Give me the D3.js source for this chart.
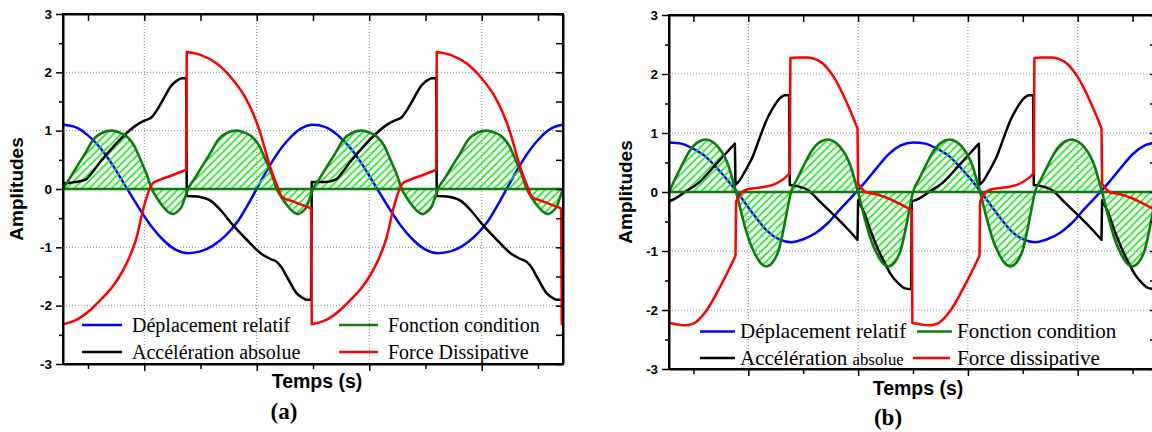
<!DOCTYPE html>
<html><head><meta charset="utf-8">
<script src="https://cdn.jsdelivr.net/npm/d3@7"></script>
<style>body{margin:0;background:#fff}svg{display:block}</style>
</head><body>
<svg id="c" width="1152" height="432"></svg>
<script>
// ---------------- DATA ----------------
const yTickValues = [-3, -2, -1, 0, 1, 2, 3];
const yMinorValues = [-2.5, -1.5, -0.5, 0.5, 1.5, 2.5];
const yGridValues = [-2, -1, 1, 2];
const xMajorTicks = [0.65, 1.55, 2.45, 3.35];
const xMinorTicks = [0.2, 1.1, 2.0, 2.9, 3.8];

const timeDisp = [0,0.1,0.2,0.3,0.4,0.5,0.6,0.7,0.8,0.9,1,1.1,1.2,1.3,1.4,1.5,1.6,1.7,1.8,1.9,2,
  2.1,2.2,2.3,2.4,2.5,2.6,2.7,2.8,2.9,3,3.1,3.2,3.3,3.4,3.5,3.6,3.7,3.8,3.9,4];

// (a) Déplacement relatif
const dispA = [1.10,1.06,0.92,0.70,0.40,0.05,-0.30,-0.62,-0.87,-1.04,-1.10,-1.07,-0.97,-0.80,-0.55,-0.19,0.20,0.56,0.84,1.03,1.10,
  1.06,0.92,0.70,0.40,0.05,-0.30,-0.62,-0.87,-1.04,-1.10,-1.07,-0.97,-0.80,-0.55,-0.19,0.20,0.56,0.84,1.03,1.10];
// (b) Déplacement relatif
const dispB = [0.84,0.82,0.73,0.60,0.39,0.15,-0.12,-0.40,-0.65,-0.80,-0.85,-0.80,-0.70,-0.53,-0.30,-0.08,0.15,0.40,0.64,0.79,0.84,
  0.82,0.73,0.60,0.39,0.15,-0.12,-0.40,-0.65,-0.80,-0.85,-0.80,-0.70,-0.53,-0.30,-0.08,0.15,0.40,0.64,0.79,0.84];

// (a) Fonction condition
const condA = [
 [0,0],[0.05,0.17],[0.11,0.38],[0.18,0.62],[0.24,0.84],[0.31,0.96],[0.39,1.00],[0.45,0.97],[0.51,0.90],[0.57,0.74],[0.62,0.50],[0.67,0.25],[0.71,0],[0.75,-0.15],[0.80,-0.30],[0.84,-0.39],[0.88,-0.43],[0.92,-0.38],[0.95,-0.30],[0.98,-0.12],
 [1,0],[1.05,0.17],[1.11,0.38],[1.18,0.62],[1.24,0.84],[1.31,0.96],[1.39,1.00],[1.45,0.97],[1.51,0.90],[1.57,0.74],[1.62,0.50],[1.67,0.25],[1.71,0],[1.75,-0.15],[1.80,-0.30],[1.84,-0.39],[1.88,-0.43],[1.92,-0.38],[1.95,-0.30],[1.98,-0.12],
 [2,0],[2.05,0.17],[2.11,0.38],[2.18,0.62],[2.24,0.84],[2.31,0.96],[2.39,1.00],[2.45,0.97],[2.51,0.90],[2.57,0.74],[2.62,0.50],[2.67,0.25],[2.71,0],[2.75,-0.15],[2.80,-0.30],[2.84,-0.39],[2.88,-0.43],[2.92,-0.38],[2.95,-0.30],[2.98,-0.12],
 [3,0],[3.05,0.17],[3.11,0.38],[3.18,0.62],[3.24,0.84],[3.31,0.96],[3.39,1.00],[3.45,0.97],[3.51,0.90],[3.57,0.74],[3.62,0.50],[3.67,0.25],[3.71,0],[3.75,-0.15],[3.80,-0.30],[3.84,-0.39],[3.88,-0.43],[3.92,-0.38],[3.95,-0.30],[3.98,-0.12],
 [4,0]];

// (b) Fonction condition
const condB = [
 [0,0],[0.05,0.22],[0.10,0.43],[0.15,0.63],[0.21,0.80],[0.25,0.86],[0.30,0.89],[0.35,0.86],[0.40,0.77],[0.45,0.62],[0.49,0.43],[0.52,0.22],[0.55,0],[0.58,-0.25],[0.62,-0.57],[0.66,-0.84],[0.70,-1.03],[0.75,-1.20],[0.80,-1.26],[0.85,-1.19],[0.90,-0.98],[0.94,-0.62],[0.97,-0.30],
 [1,0],[1.05,0.22],[1.10,0.43],[1.15,0.63],[1.21,0.80],[1.25,0.86],[1.30,0.89],[1.35,0.86],[1.40,0.77],[1.45,0.62],[1.49,0.43],[1.52,0.22],[1.55,0],[1.58,-0.25],[1.62,-0.57],[1.66,-0.84],[1.70,-1.03],[1.75,-1.20],[1.80,-1.26],[1.85,-1.19],[1.90,-0.98],[1.94,-0.62],[1.97,-0.30],
 [2,0],[2.05,0.22],[2.10,0.43],[2.15,0.63],[2.21,0.80],[2.25,0.86],[2.30,0.89],[2.35,0.86],[2.40,0.77],[2.45,0.62],[2.49,0.43],[2.52,0.22],[2.55,0],[2.58,-0.25],[2.62,-0.57],[2.66,-0.84],[2.70,-1.03],[2.75,-1.20],[2.80,-1.26],[2.85,-1.19],[2.90,-0.98],[2.94,-0.62],[2.97,-0.30],
 [3,0],[3.05,0.22],[3.10,0.43],[3.15,0.63],[3.21,0.80],[3.25,0.86],[3.30,0.89],[3.35,0.86],[3.40,0.77],[3.45,0.62],[3.49,0.43],[3.52,0.22],[3.55,0],[3.58,-0.25],[3.62,-0.57],[3.66,-0.84],[3.70,-1.03],[3.75,-1.20],[3.80,-1.26],[3.85,-1.19],[3.90,-0.98],[3.94,-0.62],[3.97,-0.30],
 [4,0]];

// (a) Accélération absolue (continuous pieces, jumps between them)
const accA = [
 [[0,0.10],[0.10,0.12],[0.18,0.16],[0.24,0.30],[0.30,0.47],[0.38,0.67],[0.48,0.90],[0.59,1.10],[0.66,1.18],[0.71,1.23],[0.76,1.38],[0.80,1.53],[0.87,1.78],[0.92,1.87],[0.95,1.90],[0.985,1.90]],
 [[0.99,-0.12],[1.07,-0.13],[1.12,-0.15],[1.18,-0.20],[1.26,-0.36],[1.36,-0.62],[1.47,-0.87],[1.58,-1.10],[1.66,-1.20],[1.71,-1.25],[1.75,-1.35],[1.79,-1.50],[1.87,-1.79],[1.92,-1.87],[1.95,-1.90],[1.985,-1.90]],
 [[1.99,0.12],[2.10,0.12],[2.18,0.16],[2.24,0.30],[2.30,0.47],[2.38,0.67],[2.48,0.90],[2.59,1.10],[2.66,1.18],[2.71,1.23],[2.76,1.38],[2.80,1.53],[2.87,1.78],[2.92,1.87],[2.95,1.90],[2.985,1.90]],
 [[2.99,-0.12],[3.07,-0.13],[3.12,-0.15],[3.18,-0.20],[3.26,-0.36],[3.36,-0.62],[3.47,-0.87],[3.58,-1.10],[3.66,-1.20],[3.71,-1.25],[3.75,-1.35],[3.79,-1.50],[3.87,-1.79],[3.92,-1.87],[3.95,-1.90],[4.0,-1.90]]
];

// (a) Force Dissipative
const forceA = [
 [[0,-2.32],[0.11,-2.24],[0.22,-2.07],[0.30,-1.90],[0.38,-1.72],[0.46,-1.47],[0.51,-1.27],[0.59,-0.82],[0.64,-0.36],[0.68,-0.07],[0.72,0.10],[0.78,0.16],[0.88,0.24],[0.985,0.33]],
 [[0.99,2.35],[1.10,2.30],[1.23,2.15],[1.36,1.87],[1.45,1.60],[1.52,1.30],[1.58,0.95],[1.64,0.50],[1.69,0.18],[1.72,0.02],[1.75,-0.13],[1.85,-0.22],[1.985,-0.33]],
 [[1.99,-2.32],[2.11,-2.24],[2.22,-2.07],[2.30,-1.90],[2.38,-1.72],[2.46,-1.47],[2.51,-1.27],[2.59,-0.82],[2.64,-0.36],[2.68,-0.07],[2.72,0.10],[2.78,0.16],[2.88,0.24],[2.985,0.33]],
 [[2.99,2.35],[3.10,2.30],[3.23,2.15],[3.36,1.87],[3.45,1.60],[3.52,1.30],[3.58,0.95],[3.64,0.50],[3.69,0.18],[3.72,0.02],[3.75,-0.13],[3.85,-0.22],[3.985,-0.33]],
 [[3.99,-2.32],[4.0,-2.32]]
];

// (b) Accélération absolue
const accB = [
 [[0,-0.16],[0.06,-0.10],[0.13,0.0],[0.24,0.15],[0.38,0.46],[0.46,0.64],[0.54,0.82]],
 [[0.545,0.12],[0.58,0.20],[0.62,0.34],[0.69,0.62],[0.74,0.90],[0.80,1.22],[0.86,1.45],[0.91,1.59],[0.95,1.64],[0.985,1.64]],
 [[0.99,0.12],[1.05,0.10],[1.14,0.03],[1.25,-0.19],[1.39,-0.47],[1.47,-0.64],[1.545,-0.81]],
 [[1.55,-0.14],[1.60,-0.35],[1.66,-0.70],[1.72,-1.00],[1.77,-1.21],[1.82,-1.40],[1.88,-1.55],[1.93,-1.63],[1.985,-1.65]],
 [[1.99,-0.16],[2.06,-0.10],[2.13,0.0],[2.24,0.15],[2.38,0.46],[2.46,0.64],[2.54,0.82]],
 [[2.545,0.12],[2.58,0.20],[2.62,0.34],[2.69,0.62],[2.74,0.90],[2.80,1.22],[2.86,1.45],[2.91,1.59],[2.95,1.64],[2.985,1.64]],
 [[2.99,0.12],[3.05,0.10],[3.14,0.03],[3.25,-0.19],[3.39,-0.47],[3.47,-0.64],[3.545,-0.81]],
 [[3.55,-0.14],[3.60,-0.35],[3.66,-0.70],[3.72,-1.00],[3.77,-1.21],[3.82,-1.40],[3.88,-1.55],[3.93,-1.63],[4.0,-1.65]]
];

// (b) Force dissipative
const forceB = [
 [[0,-0.33],[0,-2.22]],
 [[0.005,-2.22],[0.06,-2.24],[0.12,-2.26],[0.20,-2.23],[0.31,-2.00],[0.42,-1.60],[0.48,-1.36],[0.545,-1.08]],
 [[0.55,-0.16],[0.60,0.0],[0.65,0.05],[0.72,0.07],[0.79,0.09],[0.85,0.12],[0.90,0.17],[0.95,0.24],[0.99,0.32]],
 [[0.995,2.27],[1.05,2.28],[1.13,2.28],[1.24,2.21],[1.35,1.95],[1.46,1.50],[1.545,1.08]],
 [[1.55,0.14],[1.61,0.0],[1.72,-0.05],[1.80,-0.11],[1.88,-0.19],[1.99,-0.31]],
 [[1.995,-2.22],[2.06,-2.24],[2.12,-2.26],[2.20,-2.23],[2.31,-2.00],[2.42,-1.60],[2.48,-1.36],[2.545,-1.08]],
 [[2.55,-0.16],[2.60,0.0],[2.65,0.05],[2.72,0.07],[2.79,0.09],[2.85,0.12],[2.90,0.17],[2.95,0.24],[2.99,0.32]],
 [[2.995,2.27],[3.05,2.28],[3.13,2.28],[3.24,2.21],[3.35,1.95],[3.46,1.50],[3.545,1.08]],
 [[3.55,0.14],[3.61,0.0],[3.72,-0.05],[3.80,-0.11],[3.88,-0.19],[4.0,-0.32]]
];

const legendA = ["Déplacement relatif", "Accélération absolue", "Fonction condition", "Force Dissipative"];
const legendB = ["Déplacement relatif", "Accélération ", "absolue", "Fonction condition", "Force dissipative"];
const captions = ["(a)", "(b)"];
const yTitle = "Amplitudes";
const xTitle = "Temps (s)";

// ---------------- DRAWING ----------------
const svg = d3.select("#c");
const C = {blue:"#0000ff", black:"#000000", red:"#ff0000", green:"#0a7d0a", hatch:"#1ee81e"};
const SANS = "'Liberation Sans', Arial, sans-serif";
const SERIF = "'Liberation Serif', 'Times New Roman', serif";

const defs = svg.append("defs");
const pat = defs.append("pattern").attr("id","hatch").attr("patternUnits","userSpaceOnUse")
  .attr("width",7.5).attr("height",7.5);
pat.append("path").attr("d","M-2,2 L2,-2 M0,7.5 L7.5,0 M5.5,9.5 L9.5,5.5")
  .attr("stroke",C.hatch).attr("stroke-width",1.8);

function piecePath(pieces, x, y) {
  let d = "";
  pieces.forEach((p, i) => {
    const gen = d3.line().x(q => x(q[0])).y(q => y(q[1]))
      .curve(p.length > 2 ? d3.curveMonotoneX : d3.curveLinear);
    let s = gen(p);
    if (i > 0) s = "L" + s.slice(1);
    d += s;
  });
  return d;
}

function panel(cfg) {
  const x = d3.scaleLinear().domain([0, 4]).range([cfg.left, cfg.right]);
  const y = d3.scaleLinear().domain([-3, 3]).range([cfg.bottom, cfg.top]);
  const g = svg.append("g");
  const clipId = "clip" + cfg.id;
  defs.append("clipPath").attr("id", clipId).append("rect")
    .attr("x", cfg.left).attr("y", cfg.top)
    .attr("width", cfg.right - cfg.left).attr("height", cfg.bottom - cfg.top);

  // grid
  const grid = g.append("g").attr("stroke","#8a8a8a").attr("stroke-width",1).attr("stroke-dasharray","1,2");
  grid.selectAll(".gx").data(xMajorTicks).join("line")
    .attr("x1", d => x(d)).attr("x2", d => x(d)).attr("y1", cfg.top).attr("y2", cfg.bottom);
  grid.selectAll(".gy").data(yGridValues).join("line")
    .attr("y1", d => y(d)).attr("y2", d => y(d)).attr("x1", cfg.left).attr("x2", cfg.right);

  const plot = g.append("g").attr("clip-path", `url(#${clipId})`);
  const disp = timeDisp.map((t, i) => [t, cfg.disp[i]]);
  plot.append("path").attr("d", d3.line().x(d => x(d[0])).y(d => y(d[1])).curve(d3.curveMonotoneX)(disp))
    .attr("fill","none").attr("stroke",C.blue).attr("stroke-width",2.5);
  plot.append("path").attr("d", d3.area().x(d => x(d[0])).y0(y(0)).y1(d => y(d[1])).curve(d3.curveMonotoneX)(cfg.cond))
    .attr("fill","url(#hatch)");
  plot.append("path").attr("d", piecePath(cfg.acc, x, y))
    .attr("fill","none").attr("stroke",C.black).attr("stroke-width",2.5).attr("stroke-linejoin","round");
  plot.append("path").attr("d", d3.line().x(d => x(d[0])).y(d => y(d[1])).curve(d3.curveMonotoneX)(cfg.cond))
    .attr("fill","none").attr("stroke",C.green).attr("stroke-width",2.6);
  plot.append("line").attr("x1", cfg.left).attr("x2", cfg.right).attr("y1", y(0)).attr("y2", y(0))
    .attr("stroke",C.green).attr("stroke-width",2.6);
  plot.append("path").attr("d", piecePath(cfg.force, x, y))
    .attr("fill","none").attr("stroke",C.red).attr("stroke-width",2.5).attr("stroke-linejoin","round");

  // axes
  const styleAxis = sel => { sel.select(".domain").attr("stroke","#000").attr("stroke-width",2);
    sel.selectAll(".tick line").attr("stroke","#000").attr("stroke-width",1.5); };
  g.append("g").attr("transform",`translate(${cfg.left},0)`)
    .call(d3.axisLeft(y).tickValues(yTickValues).tickSize(7).tickSizeOuter(0).tickPadding(4).tickFormat(d => String(d)))
    .call(styleAxis)
    .call(s => s.selectAll("text").attr("font-family",SANS).attr("font-weight","bold").attr("font-size",13.5).attr("fill","#000"));
  g.append("g").attr("transform",`translate(${cfg.left},0)`)
    .call(d3.axisLeft(y).tickValues(yMinorValues).tickSize(4).tickFormat(""))
    .call(styleAxis).call(s => s.select(".domain").remove());
  g.append("g").attr("transform",`translate(${cfg.right},0)`)
    .call(d3.axisRight(y).tickValues(yTickValues.concat(yMinorValues)).tickSize(-7).tickSizeOuter(0).tickFormat(""))
    .call(styleAxis);
  g.append("g").attr("transform",`translate(0,${cfg.bottom})`)
    .call(d3.axisBottom(x).tickValues(xMajorTicks).tickSize(7).tickSizeOuter(0).tickFormat(""))
    .call(styleAxis);
  g.append("g").attr("transform",`translate(0,${cfg.bottom})`)
    .call(d3.axisBottom(x).tickValues(xMinorTicks).tickSize(5).tickFormat(""))
    .call(styleAxis).call(s => s.select(".domain").remove());
  g.append("g").attr("transform",`translate(0,${cfg.top})`)
    .call(d3.axisTop(x).tickValues(xMajorTicks.concat(xMinorTicks)).tickSize(-7).tickSizeOuter(0).tickFormat(""))
    .call(styleAxis);
  g.append("rect").attr("x",cfg.left).attr("y",cfg.top).attr("width",cfg.right-cfg.left).attr("height",cfg.bottom-cfg.top)
    .attr("fill","none").attr("stroke","#000").attr("stroke-width",2);

  // titles
  g.append("text").attr("transform",`translate(${cfg.yTitleX},${(cfg.top+cfg.bottom)/2}) rotate(-90)`)
    .attr("text-anchor","middle").attr("font-family",SANS).attr("font-weight","bold").attr("font-size",19).text(yTitle);
  g.append("text").attr("x",cfg.xTitleX).attr("y",cfg.xTitleY).attr("text-anchor","middle")
    .attr("font-family",SANS).attr("font-weight","bold").attr("font-size",19.5).text(xTitle);
  g.append("text").attr("x",cfg.capX).attr("y",cfg.capY).attr("text-anchor","middle")
    .attr("font-family",SERIF).attr("font-weight","bold").attr("font-size",23).text(cfg.caption);

  // legend
  const lg = g.append("g");
  cfg.legend.forEach(it => {
    lg.append("line").attr("x1",it.x1).attr("x2",it.x2).attr("y1",it.y).attr("y2",it.y)
      .attr("stroke",it.color).attr("stroke-width",2.6);
    const t = lg.append("text").attr("x",it.tx).attr("y",it.y+6.5)
      .attr("font-family",SERIF).attr("font-size",cfg.legendSize).attr("fill","#000");
    t.append("tspan").text(it.label);
    if (it.small) t.append("tspan").attr("font-size",cfg.legendSize*0.8).text(it.small);
  });
  return {x, y};
}

panel({id:"A", left:63, right:563, top:14, bottom:364,
  disp:dispA, cond:condA, acc:accA, force:forceA,
  yTitleX:23, xTitleX:317, xTitleY:388, capX:284, capY:419, caption:captions[0],
  legendSize:20,
  legend:[
    {x1:82,x2:122,y:325,tx:132,color:C.blue,label:legendA[0]},
    {x1:82,x2:122,y:352,tx:132,color:C.black,label:legendA[1]},
    {x1:339,x2:378,y:325,tx:388,color:C.green,label:legendA[2]},
    {x1:339,x2:378,y:352,tx:388,color:C.red,label:legendA[3]}
  ]});

panel({id:"B", left:669, right:1157, top:15, bottom:369,
  disp:dispB, cond:condB, acc:accB, force:forceB,
  yTitleX:632, xTitleX:918, xTitleY:395, capX:888, capY:425, caption:captions[1],
  legendSize:21,
  legend:[
    {x1:700,x2:735,y:331.5,tx:740,color:C.blue,label:legendB[0]},
    {x1:700,x2:735,y:358,tx:740,color:C.black,label:legendB[1],small:legendB[2]},
    {x1:917,x2:952,y:331.5,tx:957,color:C.green,label:legendB[3]},
    {x1:913,x2:950,y:358,tx:957,color:C.red,label:legendB[4]}
  ]});
</script>
</body></html>
